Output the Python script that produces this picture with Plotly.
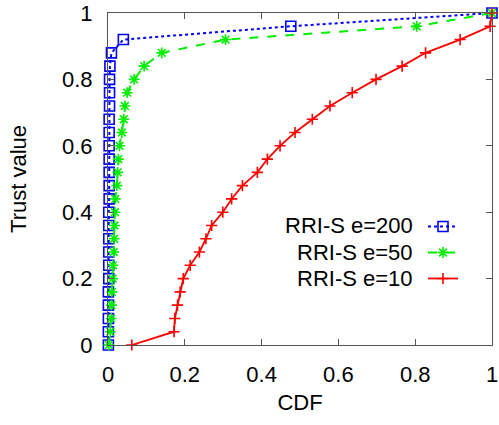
import plotly.graph_objects as go

trust_levels = [0.00, 0.04, 0.08, 0.12, 0.16, 0.20, 0.24, 0.28, 0.32, 0.36, 0.40, 0.44, 0.48,
                0.52, 0.56, 0.60, 0.64, 0.68, 0.72, 0.76, 0.80, 0.84, 0.88, 0.92, 0.96, 1.00]

cdf_e200 = [0.001, 0.001, 0.001, 0.001, 0.001, 0.002, 0.002, 0.002, 0.002, 0.002, 0.002, 0.003, 0.003,
            0.003, 0.003, 0.003, 0.003, 0.003, 0.004, 0.004, 0.004, 0.005, 0.009, 0.040, 0.476, 1.000]
cdf_e50 = [0.002, 0.006, 0.008, 0.009, 0.010, 0.012, 0.013, 0.015, 0.016, 0.017, 0.018, 0.019, 0.023,
           0.025, 0.027, 0.030, 0.036, 0.041, 0.044, 0.050, 0.068, 0.094, 0.140, 0.306, 0.804, 1.000]
cdf_e10 = [0.062, 0.172, 0.174, 0.181, 0.188, 0.196, 0.214, 0.238, 0.255, 0.270, 0.299, 0.322, 0.350,
           0.389, 0.415, 0.448, 0.487, 0.532, 0.578, 0.636, 0.698, 0.766, 0.827, 0.917, 0.995, 1.000]

series_names = ["RRI-S e=200", "RRI-S e=50", "RRI-S e=10"]
x_ticks = [0, 0.2, 0.4, 0.6, 0.8, 1]
x_tick_labels = ["0", "0.2", "0.4", "0.6", "0.8", "1"]
y_ticks = [0, 0.2, 0.4, 0.6, 0.8, 1]
y_tick_labels = ["0", "0.2", "0.4", "0.6", "0.8", "1"]

FONT = "Liberation Sans, Arial, sans-serif"
FS = 22

fig = go.Figure()
fig.add_trace(go.Scatter(
    x=cdf_e200, y=trust_levels, name=series_names[0], mode="lines+markers",
    line=dict(color="#0000ff", width=2, dash="dot"),
    marker=dict(symbol="square-open", size=10, color="#0000ff", line=dict(width=1.6, color="#0000ff")),
    cliponaxis=False, legendgroup="a"))
fig.add_trace(go.Scatter(
    x=cdf_e50, y=trust_levels, name=series_names[1], mode="lines+markers",
    line=dict(color="#00ee00", width=2, dash="dash"),
    marker=dict(symbol="asterisk-open", size=9, color="#00ee00", line=dict(width=1.6, color="#00ee00")),
    cliponaxis=False, legendgroup="b"))
fig.add_trace(go.Scatter(
    x=cdf_e10, y=trust_levels, name=series_names[2], mode="lines+markers",
    line=dict(color="#ff0000", width=1.8),
    marker=dict(symbol="cross-thin-open", size=8, color="#ff0000", line=dict(width=1.6, color="#ff0000")),
    cliponaxis=False, legendgroup="c"))

axis_common = dict(
    range=[0, 1], showgrid=False, zeroline=False, showline=True, linecolor="#555555", linewidth=1,
    mirror="ticks", ticks="inside", ticklen=6, tickcolor="#555555", tickwidth=1, automargin=False,
    tickfont=dict(family=FONT, size=FS, color="black"),
)

fig.update_xaxes(**axis_common, tickvals=x_ticks, ticktext=x_tick_labels, ticklabelstandoff=10,
                 ticklabelshift=0, ticklabeloverflow="allow",
                 title=dict(text="CDF", font=dict(family=FONT, size=FS, color="black"), standoff=8))
fig.update_yaxes(**axis_common, tickvals=y_ticks, ticktext=y_tick_labels, ticklabelstandoff=10,
                 ticklabeloverflow="allow",
                 title=dict(text="Trust value", font=dict(family=FONT, size=FS, color="black"), standoff=29))

# legend: symbols from plotly legend, labels as right-aligned annotations
legend_y = [225.7, 252.0, 278.3]
for name, yy in zip(series_names, legend_y):
    fig.add_annotation(text=name, xref="paper", yref="paper", x=(415 - 108) / 384,
                       y=(345 - yy) / 332, xanchor="right", yanchor="middle", showarrow=False,
                       font=dict(family=FONT, size=FS, color="black"))

fig.update_layout(
    width=499, height=425, margin=dict(l=108, r=7, t=13, b=80),
    plot_bgcolor="white", paper_bgcolor="white",
    showlegend=True,
    legend=dict(x=(423 - 108) / 384, y=(345 - 212) / 332, xanchor="left", yanchor="top",
                bgcolor="rgba(0,0,0,0)", font=dict(family=FONT, size=1, color="rgba(0,0,0,0)"),
                tracegroupgap=7, itemwidth=30),
)

fig.write_html("out.html", config={"displayModeBar": False},
               post_script="document.body.style.margin='0';document.body.style.overflow='hidden';")
